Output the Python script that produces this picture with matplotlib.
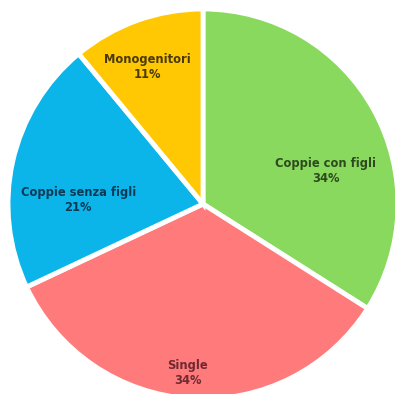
import matplotlib
import matplotlib.pyplot as plt

matplotlib.use("agg")

# household types, share in percent
categories = ["Coppie con figli", "Single", "Coppie senza figli", "Monogenitori"]
shares = [34, 34, 21, 11]
colors = ["#89D95E", "#FF7A7A", "#0BB5EA", "#FFC802"]
text_colors = ["#2E4A1E", "#6E2A33", "#0B3A57", "#4A3A05"]

# label block centres (data units, pie radius = 1)
label_pos = [(0.628, 0.17), (-0.078, -0.865), (-0.64, 0.02), (-0.283, 0.70)]

fig = plt.figure(figsize=(3.95, 3.94), dpi=100)
ax = fig.add_axes([0, 0, 1, 1])

wedges, _ = ax.pie(
    shares,
    colors=colors,
    startangle=90,
    counterclock=False,
    radius=1.0,
    wedgeprops=dict(edgecolor="white", linewidth=3.5),
)

for name, val, tc, (x, y) in zip(categories, shares, text_colors, label_pos):
    ax.text(x, y, f"{name}\n{val}%", ha="center", va="center",
            fontsize=8.3, fontweight="semibold", color=tc,
            linespacing=1.2, family=["DejaVu Sans"])

# pie centre at (203, 204) px from top-left, radius about 195 px
r_px = 195.0
cx, cy = 203.0, 204.0
ax.set_xlim(-cx / r_px, (395 - cx) / r_px)
ax.set_ylim(-(394 - cy) / r_px, cy / r_px)
ax.set_aspect("auto")
ax.axis("off")

fig.savefig("out.png", dpi=100)
